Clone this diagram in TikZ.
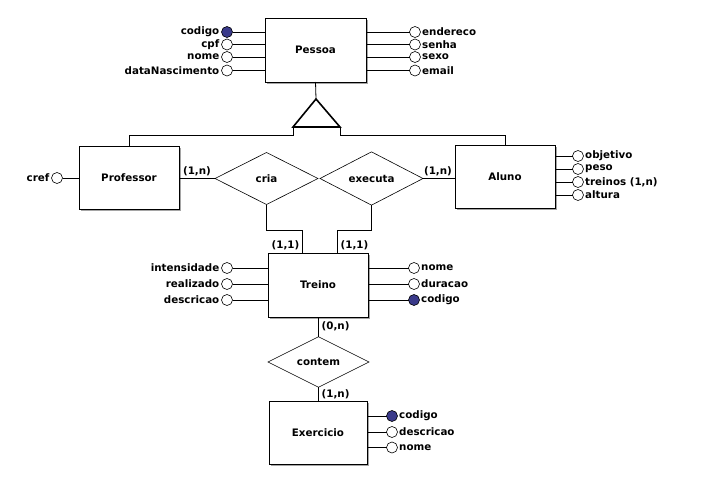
\documentclass[tikz,border=0pt]{standalone}
\usepackage{fontspec}
\setmainfont{DejaVu Sans}
\usetikzlibrary{shapes.geometric,shadows}
\definecolor{keyblue}{RGB}{58,58,138}
\begin{document}
\begin{tikzpicture}[x=1pt,y=-1pt,
  every node/.style={font=\bfseries\fontsize{10.3}{11}\selectfont},
  entity/.style={draw, line width=1pt, fill=white, inner sep=0pt, outer sep=0pt,
    drop shadow={shadow xshift=1.5pt, shadow yshift=-1.5pt, fill=black!50, opacity=0.7}},
  rel/.style={diamond, draw, line width=0.6pt, fill=white, inner sep=0pt, outer sep=0pt},
  attr/.style={circle, draw, line width=0.6pt, fill=white, minimum size=11pt, inner sep=0pt, outer sep=0pt},
  keyattr/.style={attr, fill=keyblue},
  lbl/.style={inner sep=0.5pt},
  link/.style={line width=0.8pt},
  card/.style={inner sep=0.5pt}
]
\useasboundingbox[fill=white] (0,0) rectangle (706,490);

% ---- entities ----
\node[entity, minimum width=101pt, minimum height=64pt] (pessoa) at (315.5,50) {Pessoa};
\node[entity, minimum width=100pt, minimum height=63pt] (professor) at (129,177.5) {Professor};
\node[entity, minimum width=100pt, minimum height=63pt] (aluno) at (505,176.5) {Aluno};
\node[entity, minimum width=100pt, minimum height=64pt] (treino) at (318,285) {Treino};
\node[entity, minimum width=98pt, minimum height=63pt] (exercicio) at (318,432.5) {Exercicio};

% ---- relationships ----
\node[rel, minimum width=103pt, minimum height=52pt] (cria) at (266.5,178.5) {cria};
\node[rel, minimum width=103pt, minimum height=52pt] (executa) at (371.5,178.5) {executa};
\node[rel, minimum width=101pt, minimum height=50pt] (contem) at (318.5,362) {contem};

% ---- Pessoa attributes ----
\foreach \i/\y/\t/\s in {1/32/codigo/keyattr, 2/44.5/cpf/attr, 3/57/nome/attr, 4/70.5/dataNascimento/attr} {
  \node[\s] (pa\i) at (227,\y) {};
  \node[lbl, anchor=east] (pa\i t) at ([xshift=-1.5pt]pa\i.west) {\t};
  \draw[link] (pa\i) -- (pa\i -| pessoa.west);
}
\foreach \i/\y/\t in {1/32/endereco, 2/44.5/senha, 3/57/sexo, 4/70.5/email} {
  \node[attr] (pb\i) at (415,\y) {};
  \node[lbl, anchor=west] (pb\i t) at ([xshift=1pt]pb\i.east) {\t};
  \draw[link] (pb\i) -- (pb\i -| pessoa.east);
}

% ---- specialization triangle ----
\coordinate (tapex) at (316,99);
\coordinate (tleft) at (293,127);
\coordinate (tright) at (340,127);
\draw[link] (pessoa.south) -- (tapex);
\draw[line width=1.6pt, line join=miter] (tapex) -- (tleft) -- (tright) -- cycle;
\draw[link] (tleft) -- ++(0,8) -| (professor.north);
\draw[link] (tright) -- ++(0,8) -| (aluno.north);

% ---- Professor ----
\node[attr] (pc1) at (57,178) {};
\node[lbl, anchor=east] (pc1t) at ([xshift=-1.5pt]pc1.west) {cref};
\draw[link] (pc1) -- (pc1 -| professor.west);

% ---- Aluno attributes ----
\foreach \i/\y/\t in {1/156/objetivo, 2/169/peso, 3/182/{treinos (1,n)}, 4/195/altura} {
  \node[attr] (al\i) at (578,\y) {};
  \node[lbl, anchor=west] (al\i t) at ([xshift=1pt]al\i.east) {\t};
  \draw[link] (al\i) -- (al\i -| aluno.east);
}

% ---- Treino attributes ----
\foreach \i/\y/\t in {1/268/intensidade, 2/284/realizado, 3/300/descricao} {
  \node[attr] (tl\i) at (227,\y) {};
  \node[lbl, anchor=east] (tl\i t) at ([xshift=-1.5pt]tl\i.west) {\t};
  \draw[link] (tl\i) -- (tl\i -| treino.west);
}
\foreach \i/\y/\t/\s in {1/268/nome/attr, 2/284/duracao/attr, 3/300/codigo/keyattr} {
  \node[\s] (tr\i) at (414,\y) {};
  \node[lbl, anchor=west] (tr\i t) at ([xshift=1pt]tr\i.east) {\t};
  \draw[link] (tr\i) -- (tr\i -| treino.east);
}

% ---- Exercicio attributes ----
\foreach \i/\y/\t/\s in {1/416/codigo/keyattr, 2/432/descricao/attr, 3/447.5/nome/attr} {
  \node[\s] (ex\i) at (392,\y) {};
  \node[lbl, anchor=west] (ex\i t) at ([xshift=1pt]ex\i.east) {\t};
  \draw[link] (ex\i) -- (ex\i -| exercicio.east);
}

% ---- relationship links ----
\draw[link] (professor.east |- cria.west) -- (cria.west);
\node[card, anchor=south] (c1) at (197,177) {(1,n)};
\draw[link] (executa.east) -- (executa.east -| aluno.west);
\node[card, anchor=south] (c2) at (438,177) {(1,n)};

\coordinate (cb) at (302,230);
\draw[link] (cria.south) |- (cb) -- (cb |- treino.north);
\node[card, anchor=east] (c3) at (300,245) {(1,1)};
\coordinate (eb) at (337,230);
\draw[link] (executa.south) |- (eb) -- (eb |- treino.north);
\node[card, anchor=west] (c4) at (340,245) {(1,1)};

\draw[link] (treino.south -| contem.north) -- (contem.north);
\node[card, anchor=west] (c5) at (321,326) {(0,n)};
\draw[link] (contem.south) -- (contem.south |- exercicio.north);
\node[card, anchor=west] (c6) at (321,394) {(1,n)};
\end{tikzpicture}
\end{document}
